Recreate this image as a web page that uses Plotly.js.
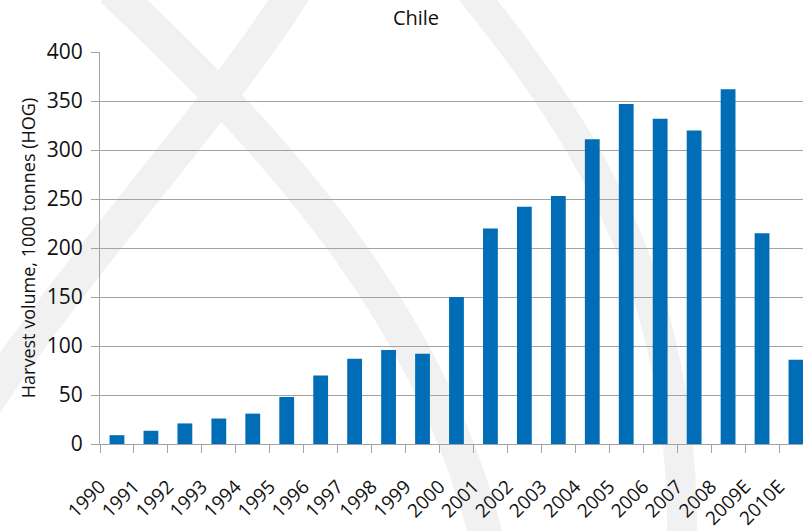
<!DOCTYPE html>
<html>
<head>
<meta charset="utf-8">
<script src="https://cdn.plot.ly/plotly-3.0.1.min.js"></script>
<style>
  html, body { margin: 0; padding: 0; background: #ffffff; }
  #chart { width: 803px; height: 531px; }
</style>
</head>
<body>
<div id="chart"></div>
<script>
// Harvest volume of salmon in Chile, 1000 tonnes (HOG)
const years = ['1990', '1991', '1992', '1993', '1994', '1995', '1996', '1997', '1998', '1999',
               '2000', '2001', '2002', '2003', '2004', '2005', '2006', '2007', '2008', '2009E', '2010E'];
const harvest = [9, 13.5, 21, 26, 31, 48, 70, 87, 96, 92,
                 150, 220, 242, 253, 311, 347, 332, 320, 362, 215, 86];
const yTicks = [0, 50, 100, 150, 200, 250, 300, 350, 400];

// Plot-area geometry in pixels
const M = { l: 100, r: 0, t: 52, b: 87 };
const W = 803 - M.l - M.r;
const H = 531 - M.t - M.b;

// Convert a pixel position to paper coordinates for the background swooshes
function p(x, y) {
  return ((x - M.l) / W).toFixed(4) + ',' + ((M.t + H - y) / H).toFixed(4);
}
function swoosh(a, b, c, d, w) {
  return {
    type: 'path', xref: 'paper', yref: 'paper', layer: 'below',
    path: 'M' + p(a[0], a[1]) + ' C' + p(b[0], b[1]) + ' ' + p(c[0], c[1]) + ' ' + p(d[0], d[1]),
    line: { color: '#F1F1F1', width: w }
  };
}
const swooshes = [
  swoosh([112, -10], [250, 120], [430, 300], [488, 545], 34),
  swoosh([295, -10], [220, 110], [80, 260], [-15, 405], 34),
  swoosh([470, -10], [600, 150], [685, 300], [682, 545], 30)
];

const trace = {
  type: 'bar',
  x: years,
  y: harvest,
  marker: { color: '#016DB6', line: { width: 0 } },
  hoverinfo: 'x+y'
};

const gridGray = '#A3A3A3';
const txt = '#111111';
const layout = {
  width: 803,
  height: 531,
  margin: M,
  paper_bgcolor: '#ffffff',
  plot_bgcolor: 'rgba(0,0,0,0)',
  font: { family: '"Open Sans", Lato, sans-serif', color: txt },
  showlegend: false,
  bargap: 0.564,
  title: {
    text: 'Chile',
    font: { size: 20, color: txt },
    xref: 'container', yref: 'container',
    x: 416 / 803, y: 1 - 18 / 531,
    xanchor: 'center', yanchor: 'middle'
  },
  xaxis: {
    type: 'category',
    categoryorder: 'array',
    categoryarray: years,
    range: [-0.5, -0.5 + 703 / 33.95],
    autorange: false,
    tickson: 'boundaries',
    ticks: 'outside',
    ticklen: 8,
    tickwidth: 1,
    tickcolor: gridGray,
    showline: true,
    linecolor: gridGray,
    linewidth: 1,
    showgrid: false,
    zeroline: false,
    tickangle: -45,
    ticklabelshift: -17,
    ticklabelstandoff: 23,
    tickfont: { size: 19, color: txt }
  },
  yaxis: {
    range: [0, 400],
    autorange: false,
    tickvals: yTicks,
    ticktext: yTicks.map(String),
    ticks: 'outside',
    ticklen: 8,
    tickwidth: 1,
    tickcolor: gridGray,
    showline: true,
    linecolor: gridGray,
    linewidth: 1,
    showgrid: true,
    gridcolor: gridGray,
    gridwidth: 1,
    zeroline: false,
    ticklabelstandoff: 4,
    tickfont: { size: 21, color: txt },
    title: {
      text: 'Harvest volume, 1000 tonnes (HOG)',
      font: { size: 18, color: txt },
      standoff: 6
    }
  },
  shapes: swooshes
};

Plotly.newPlot('chart', [trace], layout, { displayModeBar: false, staticPlot: true });
</script>
</body>
</html>
